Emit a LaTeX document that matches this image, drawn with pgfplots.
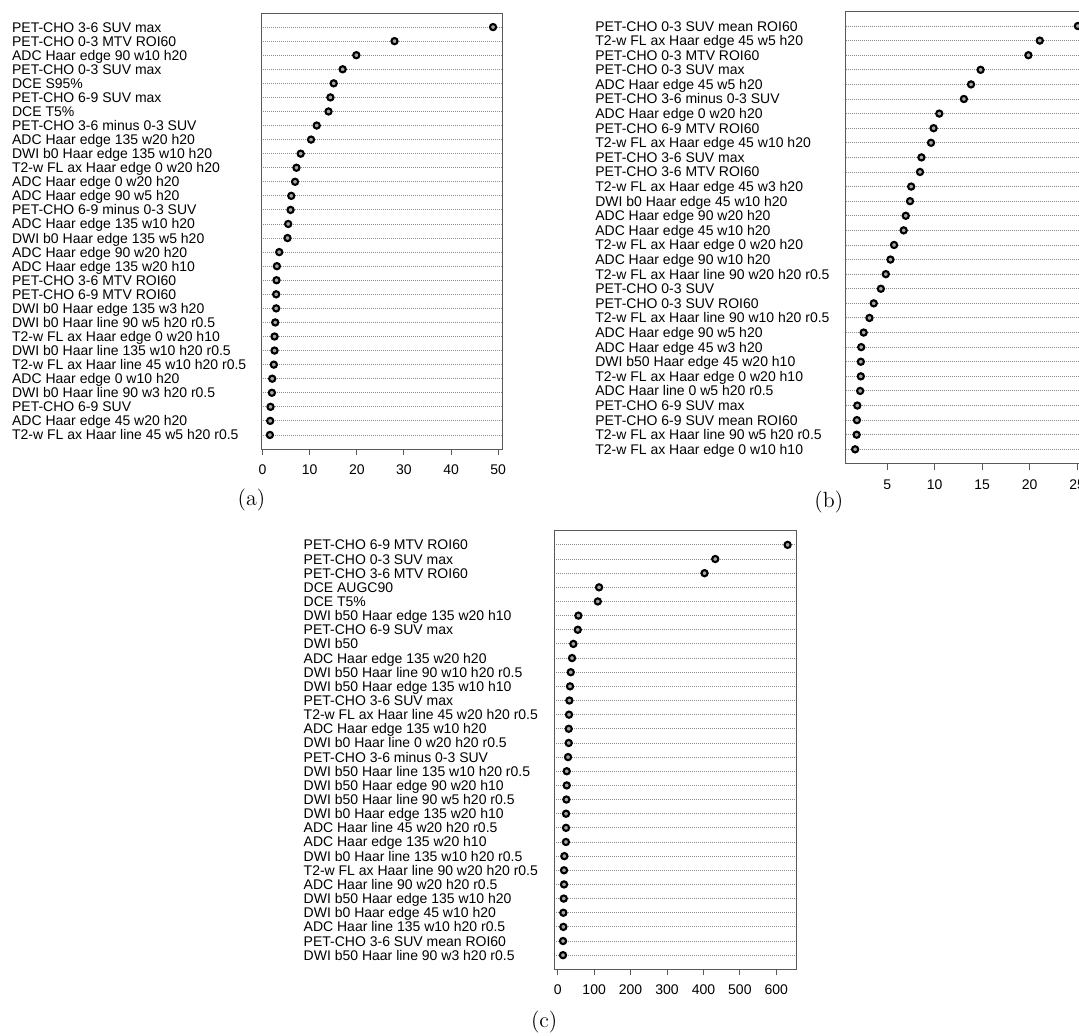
\documentclass[border=0pt]{standalone}
\usepackage{pgfplots}
\pgfplotsset{compat=1.18}
\usepackage{fontspec}
\newfontfamily\lsans{Liberation Sans}
\newcommand{\lab}{\lsans\fontsize{7}{8}\selectfont}
\pgfplotsset{
  dotchart/.style={
    scale only axis,
    anchor=south west,
    ymin=0, ymax=31,
    ytick={1,...,30},
    y tick style={draw=none},
    ymajorgrids,
    major grid style={black!45, line width=0.45pt, dash pattern=on 0.45pt off 0.55pt},
    axis line style={draw=black!65, line width=0.5pt},
    xtick pos=bottom,
    xtick align=outside,
    x tick style={draw=black!65, line width=0.5pt},
    major tick length=3pt,
    xticklabel style={font=\lab, yshift=-1.2pt},
    /pgf/number format/assume math mode=true,
    yticklabel style={font=\lab, anchor=base west, inner sep=0pt, yshift=-2.5pt},
    clip=false,
  },
  dots/.style={only marks, mark=*, mark size=1.55pt,
    mark options={draw=black, fill=black!35, line width=1.05pt}},
}
\begin{document}
\begin{tikzpicture}
\path[use as bounding box] (0pt,0pt) rectangle (539.5pt,-517.5pt);

% ---------------- (a)
\begin{axis}[dotchart,
  at={(130.5pt,-224.5pt)}, width=120.5pt, height=218pt,
  xmin=-0.32, xmax=50.8,
  xtick={0,10,20,30,40,50},
  yticklabel style={xshift=-124.65pt},
  yticklabels={
    T2-w FL ax Haar line 45 w5 h20 r0.5,
    ADC Haar edge 45 w20 h20,
    PET-CHO 6-9 SUV,
    DWI b0 Haar line 90 w3 h20 r0.5,
    ADC Haar edge 0 w10 h20,
    T2-w FL ax Haar line 45 w10 h20 r0.5,
    DWI b0 Haar line 135 w10 h20 r0.5,
    T2-w FL ax Haar edge 0 w20 h10,
    DWI b0 Haar line 90 w5 h20 r0.5,
    DWI b0 Haar edge 135 w3 h20,
    PET-CHO 6-9 MTV ROI60,
    PET-CHO 3-6 MTV ROI60,
    ADC Haar edge 135 w20 h10,
    ADC Haar edge 90 w20 h20,
    DWI b0 Haar edge 135 w5 h20,
    ADC Haar edge 135 w10 h20,
    PET-CHO 6-9 minus 0-3 SUV,
    ADC Haar edge 90 w5 h20,
    ADC Haar edge 0 w20 h20,
    T2-w FL ax Haar edge 0 w20 h20,
    DWI b0 Haar edge 135 w10 h20,
    ADC Haar edge 135 w20 h20,
    PET-CHO 3-6 minus 0-3 SUV,
    DCE T5\%,
    PET-CHO 6-9 SUV max,
    DCE S95\%,
    PET-CHO 0-3 SUV max,
    ADC Haar edge 90 w10 h20,
    PET-CHO 0-3 MTV ROI60,
    PET-CHO 3-6 SUV max},
]
\addplot[dots] coordinates {
 (48.9,30) (28.0,29) (19.9,28) (17.0,27) (15.1,26) (14.4,25) (14.0,24) (11.5,23)
 (10.3,22) (8.1,21) (7.2,20) (6.9,19) (6.1,18) (5.95,17) (5.45,16) (5.3,15)
 (3.55,14) (3.05,13) (2.97,12) (2.9,11) (2.9,10) (2.7,9) (2.55,8) (2.55,7)
 (2.4,6) (2.06,5) (1.99,4) (1.7,3) (1.63,2) (1.57,1)};
\end{axis}

% ---------------- (b)
\begin{axis}[dotchart,
  at={(422.9pt,-231.95pt)}, width=120.45pt, height=226.25pt,
  xmin=0.64, xmax=26.0,
  xtick={5,10,15,20,25},
  yticklabel style={xshift=-125.45pt},
  yticklabels={
    T2-w FL ax Haar edge 0 w10 h10,
    T2-w FL ax Haar line 90 w5 h20 r0.5,
    PET-CHO 6-9 SUV mean ROI60,
    PET-CHO 6-9 SUV max,
    ADC Haar line 0 w5 h20 r0.5,
    T2-w FL ax Haar edge 0 w20 h10,
    DWI b50 Haar edge 45 w20 h10,
    ADC Haar edge 45 w3 h20,
    ADC Haar edge 90 w5 h20,
    T2-w FL ax Haar line 90 w10 h20 r0.5,
    PET-CHO 0-3 SUV ROI60,
    PET-CHO 0-3 SUV,
    T2-w FL ax Haar line 90 w20 h20 r0.5,
    ADC Haar edge 90 w10 h20,
    T2-w FL ax Haar edge 0 w20 h20,
    ADC Haar edge 45 w10 h20,
    ADC Haar edge 90 w20 h20,
    DWI b0 Haar edge 45 w10 h20,
    T2-w FL ax Haar edge 45 w3 h20,
    PET-CHO 3-6 MTV ROI60,
    PET-CHO 3-6 SUV max,
    T2-w FL ax Haar edge 45 w10 h20,
    PET-CHO 6-9 MTV ROI60,
    ADC Haar edge 0 w20 h20,
    PET-CHO 3-6 minus 0-3 SUV,
    ADC Haar edge 45 w5 h20,
    PET-CHO 0-3 SUV max,
    PET-CHO 0-3 MTV ROI60,
    T2-w FL ax Haar edge 45 w5 h20,
    PET-CHO 0-3 SUV mean ROI60},
]
\addplot[dots] coordinates {
 (25.07,30) (21.06,29) (19.86,28) (14.83,27) (13.82,26) (13.07,25) (10.48,24) (9.88,23)
 (9.61,22) (8.6,21) (8.45,20) (7.52,19) (7.4,18) (6.95,17) (6.73,16) (5.72,15)
 (5.34,14) (4.85,13) (4.33,12) (3.58,11) (3.13,10) (2.52,9) (2.26,8) (2.22,7)
 (2.22,6) (2.15,5) (1.85,4) (1.81,3) (1.78,2) (1.62,1)};
\end{axis}

% ---------------- (c)
\begin{axis}[dotchart,
  at={(277pt,-484.65pt)}, width=121.35pt, height=219.3pt,
  xmin=-10.2, xmax=656,
  xtick={0,100,200,300,400,500,600},
  yticklabel style={xshift=-125.35pt},
  yticklabels={
    DWI b50 Haar line 90 w3 h20 r0.5,
    PET-CHO 3-6 SUV mean ROI60,
    ADC Haar line 135 w10 h20 r0.5,
    DWI b0 Haar edge 45 w10 h20,
    DWI b50 Haar edge 135 w10 h20,
    ADC Haar line 90 w20 h20 r0.5,
    T2-w FL ax Haar line 90 w20 h20 r0.5,
    DWI b0 Haar line 135 w10 h20 r0.5,
    ADC Haar edge 135 w20 h10,
    ADC Haar line 45 w20 h20 r0.5,
    DWI b0 Haar edge 135 w20 h10,
    DWI b50 Haar line 90 w5 h20 r0.5,
    DWI b50 Haar edge 90 w20 h10,
    DWI b50 Haar line 135 w10 h20 r0.5,
    PET-CHO 3-6 minus 0-3 SUV,
    DWI b0 Haar line 0 w20 h20 r0.5,
    ADC Haar edge 135 w10 h20,
    T2-w FL ax Haar line 45 w20 h20 r0.5,
    PET-CHO 3-6 SUV max,
    DWI b50 Haar edge 135 w10 h10,
    DWI b50 Haar line 90 w10 h20 r0.5,
    ADC Haar edge 135 w20 h20,
    DWI b50,
    PET-CHO 6-9 SUV max,
    DWI b50 Haar edge 135 w20 h10,
    DCE T5\%,
    DCE AUGC90,
    PET-CHO 3-6 MTV ROI60,
    PET-CHO 0-3 SUV max,
    PET-CHO 6-9 MTV ROI60},
]
\addplot[dots] coordinates {
 (631,30) (432.4,29) (403,28) (113.5,27) (110,26) (56.7,25) (55,24) (43,23)
 (39.3,22) (35.7,21) (33.8,20) (32,19) (31,18) (30.2,17) (30.2,16) (28.3,15)
 (24.7,14) (24.7,13) (23.8,12) (22.8,11) (22.8,10) (22.5,9) (18.2,8) (17.3,7)
 (17.3,6) (16.5,5) (15.5,4) (15.5,3) (14.6,2) (14.5,1)};
\end{axis}

\node[font=\fontsize{11}{13}\selectfont] at (125.75pt,-250pt) {(a)};
\node[font=\fontsize{11}{13}\selectfont] at (414.4pt,-250.85pt) {(b)};
\node[font=\fontsize{11}{13}\selectfont] at (272.1pt,-510.85pt) {(c)};
\end{tikzpicture}
\end{document}
